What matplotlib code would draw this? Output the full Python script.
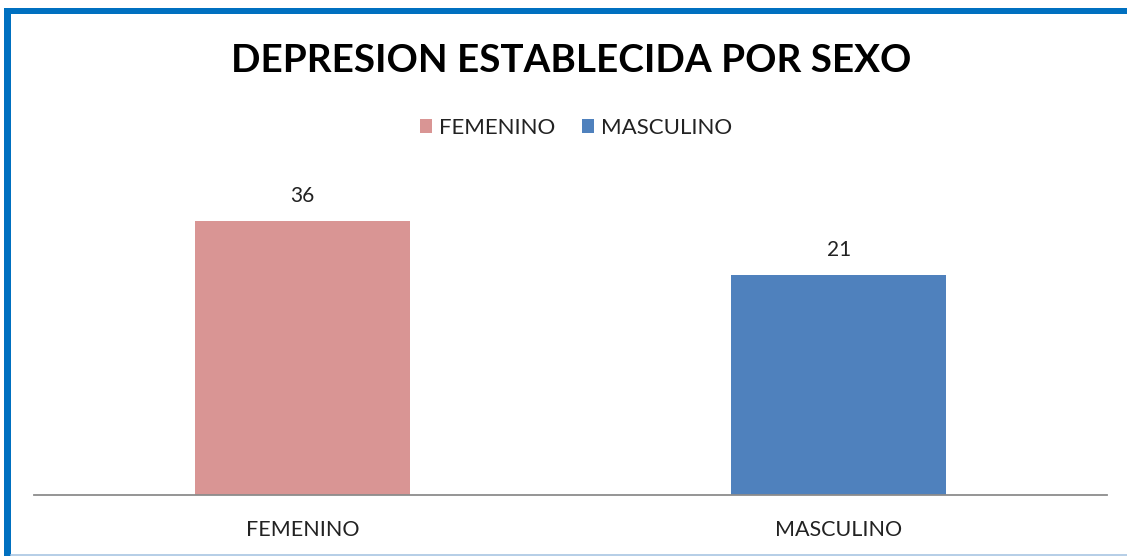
import matplotlib
matplotlib.use("Agg")
import matplotlib.pyplot as plt
from matplotlib.patches import Rectangle, Patch
from matplotlib.lines import Line2D

categories = ["FEMENINO", "MASCULINO"]
values = [36, 21]
colors = ["#D99594", "#4F81BD"]
title = "DEPRESION ESTABLECIDA POR SEXO"

Y_MIN = -40
Y_MAX = 50

W, H = 1127, 556
fig = plt.figure(figsize=(W / 100, H / 100), dpi=100)
fig.patch.set_facecolor("white")
plt.rcParams["font.family"] = ["Lato", "DejaVu Sans"]

def px(x0, y0, x1, y1):
    return [x0 / W, 1 - y1 / H, (x1 - x0) / W, (y1 - y0) / H]

ax = fig.add_axes(px(34, 171, 1107, 495))
xs = list(range(len(categories)))
bars = ax.bar(xs, [v - Y_MIN for v in values], bottom=Y_MIN, width=0.4,
              color=colors, zorder=2)
for x, v in zip(xs, values):
    ax.annotate(str(v), (x, v), xytext=(0, 11), textcoords="offset points",
                ha="center", va="bottom", fontsize=15, color="#222222")
ax.set_xlim(-0.5, 1.5)
ax.set_ylim(Y_MIN, Y_MAX)
for s in ["top", "right", "left"]:
    ax.spines[s].set_visible(False)
ax.spines["bottom"].set_color("#8c8c8c")
ax.spines["bottom"].set_linewidth(1.3)
ax.set_yticks([])
ax.set_xticks(xs)
ax.set_xticklabels(categories, fontsize=15.5, color="#222222")
ax.tick_params(axis="x", length=0, pad=18)

fig.text(571 / W, 1 - 61 / H, title, ha="center", va="center",
         fontsize=27.8, fontweight="bold", color="black")

handles = [Patch(facecolor=c, edgecolor="none") for c in colors]
leg = fig.legend(handles, categories, loc="center", bbox_to_anchor=(576 / W, 1 - 128 / H),
                 ncol=2, frameon=False, fontsize=16, handlelength=0.55, handleheight=0.55,
                 handletextpad=0.3, columnspacing=1.2)
for t in leg.get_texts():
    t.set_color("#222222")

# frame
fig.add_artist(Rectangle((4 / W, 0), 7 / W, 1 - 8 / H, transform=fig.transFigure,
                         facecolor="#0070C0", edgecolor="none"))
fig.add_artist(Rectangle((4 / W, 1 - 14 / H), 1 - 4 / W, 6 / H, transform=fig.transFigure,
                         facecolor="#0070C0", edgecolor="none"))
fig.add_artist(Line2D([11 / W, 1], [1 - 555 / H, 1 - 555 / H], transform=fig.transFigure,
                      color="#A9C6E3", linewidth=1.2))

fig.savefig("out.png", dpi=100)
